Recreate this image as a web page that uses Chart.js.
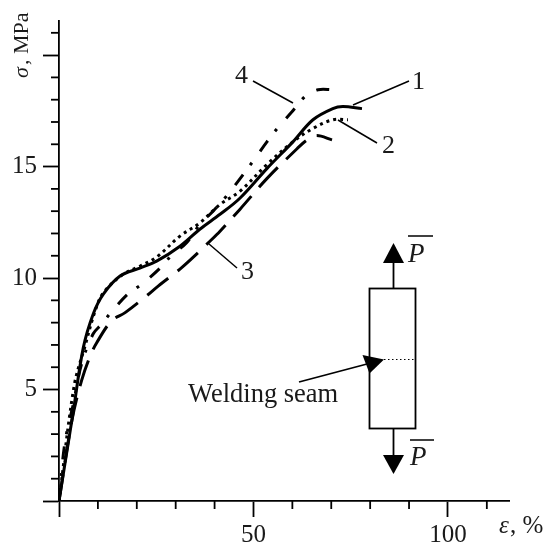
<!DOCTYPE html>
<html>
<head>
<meta charset="utf-8">
<style>
  html, body { margin: 0; padding: 0; background: #fff; }
  canvas { display: block; }
</style>
<script src="https://cdn.jsdelivr.net/npm/chart.js@4"></script>
</head>
<body>
<canvas id="myChart" width="547" height="545" style="width:547px;height:545px"></canvas>
<script>
// Values: strain in %, stress in MPa
var curve1X = [0, 3.7, 6.25, 8.8, 11.4, 15.7, 20.8, 25.1, 31.1, 36.2, 41.4, 46.5, 53.5, 60.2, 65.3, 70.4, 73, 77.9];
var curve1Y = [0, 4.05, 6.88, 8.39, 9.28, 10.09, 10.45, 10.76, 11.43, 12.19, 12.86, 13.58, 14.92, 16.12, 17.1, 17.6, 17.69, 17.6];

var curve2X = [0, 3.9, 6.7, 9.25, 11.4, 16.5, 20.8, 25.1, 31.1, 36.2, 41.4, 46.5, 53.5, 60.2, 65.3, 70.4, 74.3];
var curve2Y = [0, 5.17, 6.96, 8.5, 9.34, 10.17, 10.53, 10.94, 11.88, 12.47, 13.3, 13.89, 15.1, 16.12, 16.71, 17.1, 17.1];

var curve3X = [0, 3.3, 5.8, 8, 9.7, 13.5, 17, 22.5, 25.5, 31.1, 33.7, 38.8, 41.4, 46.5, 53.5, 61.2, 63.8, 66.3, 70.2];
var curve3Y = [0, 3.6, 5.4, 6.5, 7.1, 8.08, 8.45, 9.2, 9.64, 10.4, 10.8, 11.65, 12.1, 13.08, 14.47, 15.8, 16.2, 16.39, 16.2];

var curve4X = [0, 1.5, 3.7, 5.8, 8.8, 11, 13.3, 17.7, 21.3, 26, 29, 32.8, 36.2, 39.6, 43.4, 47, 50, 53.5, 56.3, 59.9, 63.5, 66.6, 70.4];
var curve4Y = [0, 2.6, 4.37, 6.15, 7.5, 7.94, 8.44, 9.28, 9.73, 10.45, 11.03, 11.58, 12.41, 13, 13.75, 14.56, 15.27, 16.12, 16.75, 17.46, 18.18, 18.45, 18.45];

var xTickLabels = [50, 100];
var yTickLabels = [5, 10, 15];
var xMajorStep = 50;
var yMajorStep = 5;

function toPoints(xs, ys) {
  return xs.map(function (x, i) { return { x: x, y: ys[i] }; });
}

function makeCurve(label, xs, ys, dash, width) {
  return {
    label: label,
    data: toPoints(xs, ys),
    borderColor: '#000',
    borderWidth: width,
    borderDash: dash,
    borderCapStyle: 'butt',
    pointRadius: 0,
    tension: 0.35,
    fill: false
  };
}

var SERIF = '"Liberation Serif", serif';

function line(ctx, x1, y1, x2, y2, w) {
  ctx.lineWidth = w;
  ctx.beginPath();
  ctx.moveTo(x1, y1);
  ctx.lineTo(x2, y2);
  ctx.stroke();
}

function triangle(ctx, x1, y1, x2, y2, x3, y3) {
  ctx.beginPath();
  ctx.moveTo(x1, y1);
  ctx.lineTo(x2, y2);
  ctx.lineTo(x3, y3);
  ctx.closePath();
  ctx.fill();
}

// minor ticks are shorter than the library's single tick length
var minorTicks = {
  id: 'minorTicks',
  afterDraw: function (chart) {
    var ctx = chart.ctx, sx = chart.scales.x, sy = chart.scales.y;
    ctx.save();
    ctx.strokeStyle = '#000';
    sx.ticks.forEach(function (t) {
      if (t.value % xMajorStep !== 0) {
        var px = sx.getPixelForValue(t.value);
        line(ctx, px, sx.top, px, sx.top + 8, 1.8);
      }
    });
    sy.ticks.forEach(function (t) {
      if (t.value % yMajorStep !== 0) {
        var py = sy.getPixelForValue(t.value);
        line(ctx, sy.right - 8, py, sy.right, py, 1.8);
      }
    });
    ctx.restore();
  }
};

// axis titles, curve numbers with leaders, and the specimen sketch
var annotations = {
  id: 'annotations',
  afterDraw: function (chart) {
    var ctx = chart.ctx;
    ctx.save();
    ctx.fillStyle = '#1a1a1a';
    ctx.strokeStyle = '#000';
    ctx.textBaseline = 'alphabetic';
    ctx.textAlign = 'left';

    // x title
    ctx.font = 'italic 25px ' + SERIF;
    ctx.fillText('ε', 499, 533);
    ctx.font = '25px ' + SERIF;
    ctx.fillText(', %', 510, 533);

    // y title
    ctx.save();
    ctx.translate(28, 78);
    ctx.rotate(-Math.PI / 2);
    ctx.font = 'italic 22px ' + SERIF;
    ctx.fillText('σ', 0, 0);
    ctx.font = '22px ' + SERIF;
    ctx.fillText(', MPa', 13, 0);
    ctx.restore();

    // curve numbers
    ctx.font = '26px ' + SERIF;
    ctx.fillText('1', 412, 89);
    ctx.fillText('2', 382, 153);
    ctx.fillText('3', 241, 279);
    ctx.fillText('4', 235, 83);
    line(ctx, 409, 81, 353, 105, 1.5);
    line(ctx, 377, 143, 338, 120, 1.5);
    line(ctx, 237, 268, 209, 244, 1.5);
    line(ctx, 253, 81, 293, 103, 1.5);

    // specimen
    ctx.lineWidth = 1.8;
    ctx.strokeRect(369.5, 288.5, 46, 140);
    line(ctx, 393.5, 288, 393.5, 262, 1.8);
    line(ctx, 393.5, 428, 393.5, 456, 1.8);
    ctx.fillStyle = '#000';
    triangle(ctx, 393.5, 243, 383, 263, 404, 263);
    triangle(ctx, 393.5, 474, 383, 455, 404, 455);

    // seam
    ctx.save();
    ctx.setLineDash([1.5, 2.5]);
    line(ctx, 384, 359.5, 415, 359.5, 1);
    ctx.restore();
    line(ctx, 299, 382, 367, 364, 1.8);
    triangle(ctx, 384, 359.5, 362.5, 355, 369.5, 373.5);

    // load labels
    ctx.fillStyle = '#1a1a1a';
    ctx.font = 'italic 27px ' + SERIF;
    ctx.fillText('P', 408, 262);
    ctx.fillText('P', 410, 465);
    line(ctx, 408, 236, 433, 236, 1.5);
    line(ctx, 410, 440, 434, 440, 1.5);

    ctx.font = '26.5px ' + SERIF;
    ctx.fillText('Welding seam', 188, 402);
    ctx.restore();
  }
};

var ctx = document.getElementById('myChart').getContext('2d');

var myChart = new Chart(ctx, {
  type: 'line',
  data: {
    datasets: [
      makeCurve('1', curve1X, curve1Y, [], 3),
      makeCurve('2', curve2X, curve2Y, [3, 4], 3),
      makeCurve('3', curve3X, curve3Y, [27, 12], 3),
      makeCurve('4', curve4X, curve4Y, [13, 12, 3, 14], 3)
    ]
  },
  options: {
    responsive: false,
    animation: false,
    devicePixelRatio: 1,
    layout: { padding: { top: 19, right: 38, left: 0, bottom: 0 } },
    plugins: { legend: { display: false }, tooltip: { enabled: false } },
    scales: {
      x: {
        type: 'linear',
        min: 0,
        max: 115.7,
        afterFit: function (scale) { scale.height = 44; },
        border: { display: true, color: '#000', width: 1.8 },
        grid: {
          drawOnChartArea: false,
          tickLength: 16,
          tickWidth: 1.8,
          tickColor: function (c) { return c.tick && c.tick.value % xMajorStep === 0 ? '#000' : 'transparent'; }
        },
        ticks: {
          stepSize: 10,
          includeBounds: false,
          autoSkip: false,
          maxRotation: 0,
          padding: 3,
          color: '#1a1a1a',
          font: { family: SERIF, size: 25 },
          callback: function (v) { return xTickLabels.indexOf(v) >= 0 ? String(v) : ''; }
        }
      },
      y: {
        type: 'linear',
        min: 0,
        max: 21.53,
        afterFit: function (scale) { scale.width = 59; },
        border: { display: true, color: '#000', width: 1.8 },
        grid: {
          drawOnChartArea: false,
          tickLength: 16,
          tickWidth: 1.8,
          tickColor: function (c) { return c.tick && c.tick.value % yMajorStep === 0 ? '#000' : 'transparent'; }
        },
        ticks: {
          stepSize: 1,
          includeBounds: false,
          autoSkip: false,
          padding: 6,
          color: '#1a1a1a',
          font: { family: SERIF, size: 25 },
          callback: function (v) { return yTickLabels.indexOf(v) >= 0 ? String(v) : ''; }
        }
      }
    }
  },
  plugins: [minorTicks, annotations]
});
</script>
</body>
</html>
